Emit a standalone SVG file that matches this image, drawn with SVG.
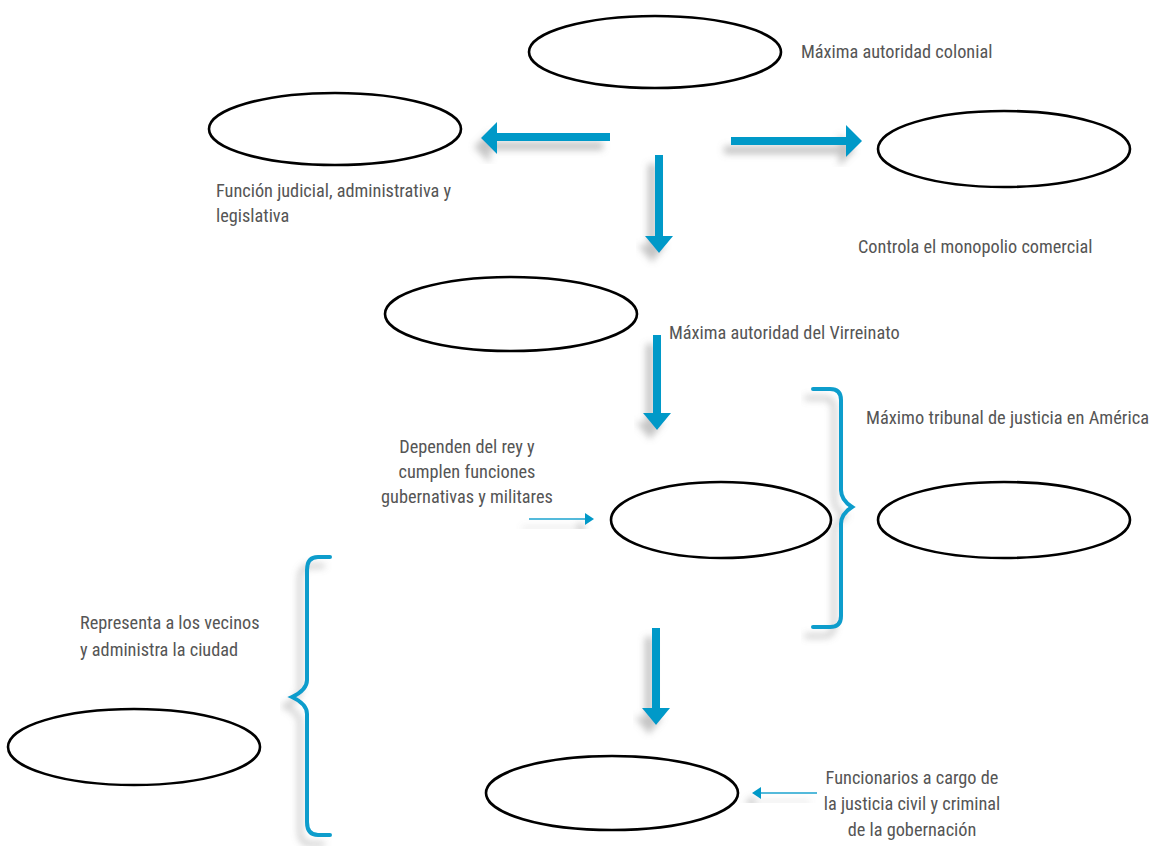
<svg xmlns="http://www.w3.org/2000/svg" width="1155" height="846" viewBox="0 0 1155 846">
<defs>
<filter id="sh" x="-30%" y="-30%" width="160%" height="160%">
<feDropShadow dx="-7" dy="9" stdDeviation="3.5" flood-color="#7a7a7a" flood-opacity="0.45"/>
</filter>
<style>
.node{fill:#fff;stroke:#000;stroke-width:2.6}
.arr{stroke:#0099c8;stroke-width:8;fill:none}
.head{fill:#0099c8}
.thin{stroke:#1aa3cf;stroke-width:1.6;fill:none}
.brace{stroke:#0a9dcc;stroke-width:4;fill:none;stroke-linecap:round}
text{font-family:"Liberation Sans Narrow","Roboto Condensed","Liberation Sans",sans-serif;font-size:18.3px;fill:#555}
.c{text-anchor:middle}
</style>
</defs>
<rect width="1155" height="846" fill="#fff"/>
<g id="connectors">
<g filter="url(#sh)">
<line class="arr" x1="610" y1="137" x2="494" y2="137"/>
<polygon class="head" points="481,138 497,122 497,154"/>
</g>
<g filter="url(#sh)">
<line class="arr" x1="731" y1="141" x2="850" y2="141"/>
<polygon class="head" points="862,141 846,125 846,157"/>
</g>
<g filter="url(#sh)">
<line class="arr" x1="659" y1="155" x2="659" y2="238"/>
<polygon class="head" points="659,253 645,236 673,236"/>
</g>
<g filter="url(#sh)">
<line class="arr" x1="657" y1="335" x2="657" y2="415"/>
<polygon class="head" points="657,430 643,413 671,413"/>
</g>
<g filter="url(#sh)">
<line class="arr" x1="656" y1="628" x2="656" y2="710"/>
<polygon class="head" points="656,725 642,708 670,708"/>
</g>
<g filter="url(#sh)">
<line class="thin" x1="529" y1="519" x2="586" y2="519"/>
<polygon class="head" points="594,519 585,513 585,525"/>
</g>
<g filter="url(#sh)">
<line class="thin" x1="817" y1="793" x2="760" y2="793"/>
<polygon class="head" points="752,793 761,787 761,799"/>
</g>
<path class="brace" filter="url(#sh)" d="M330,557 H318 Q307,557 307,570 V680 Q307,690 292,697 Q307,704 307,714 V822 Q307,835 318,835 H330"/>
<path class="brace" filter="url(#sh)" d="M813,389 H830 Q841,389 841,400 V490 Q841,500 852,507 Q841,514 841,524 V616 Q841,627 830,627 H813"/>
</g>
<g id="n1"><ellipse class="node" cx="655" cy="52" rx="126" ry="36"/></g>
<g id="n2"><ellipse class="node" cx="335" cy="129" rx="126" ry="36"/></g>
<g id="n3"><ellipse class="node" cx="1004" cy="149" rx="126" ry="38"/></g>
<g id="n4"><ellipse class="node" cx="511" cy="314" rx="126" ry="37"/></g>
<g id="n5"><ellipse class="node" cx="721" cy="520" rx="110" ry="38"/></g>
<g id="n6"><ellipse class="node" cx="1004" cy="520" rx="126" ry="38"/></g>
<g id="n7"><ellipse class="node" cx="134" cy="747" rx="126" ry="38"/></g>
<g id="n8"><ellipse class="node" cx="612" cy="793" rx="126" ry="37"/></g>
<g id="labels">
<text x="801" y="58">Máxima autoridad colonial</text>
<text x="216" y="197">Función judicial, administrativa y</text>
<text x="216" y="222">legislativa</text>
<text x="858" y="253">Controla el monopolio comercial</text>
<text x="669" y="339">Máxima autoridad del Virreinato</text>
<text x="866" y="424" textLength="283" lengthAdjust="spacingAndGlyphs">Máximo tribunal de justicia en América</text>
<text class="c" x="467" y="453">Dependen del rey y</text>
<text class="c" x="467" y="478">cumplen funciones</text>
<text class="c" x="467" y="503">gubernativas y militares</text>
<text x="80" y="629">Representa a los vecinos</text>
<text x="80" y="656">y administra la ciudad</text>
<text class="c" x="912" y="784">Funcionarios a cargo de</text>
<text class="c" x="912" y="810">la justicia civil y criminal</text>
<text class="c" x="912" y="836">de la gobernación</text>
</g>
</svg>
